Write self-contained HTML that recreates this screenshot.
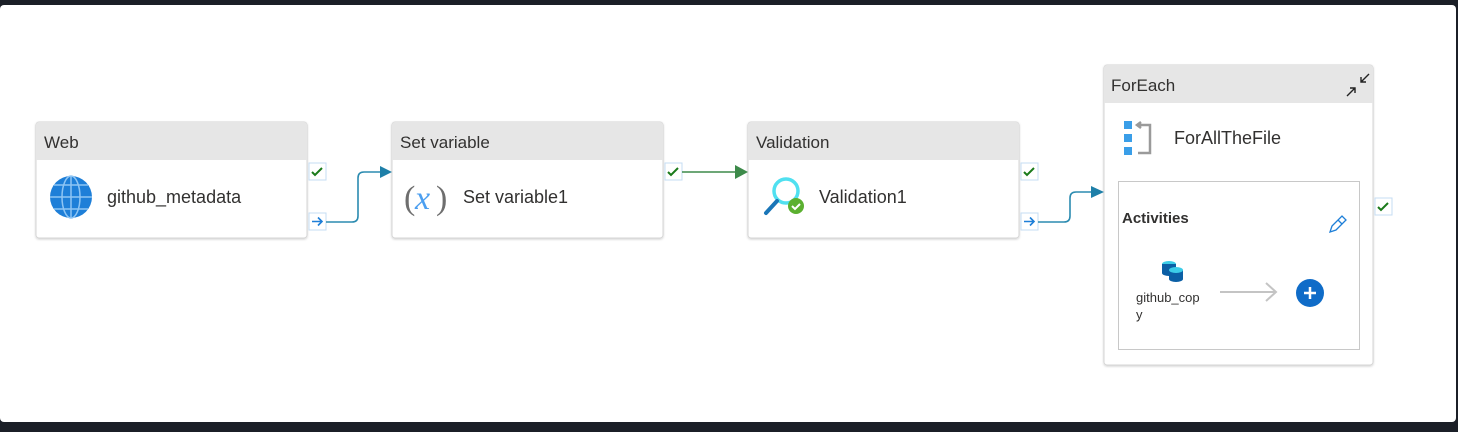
<!DOCTYPE html>
<html><head><meta charset="utf-8"><style>
html,body{margin:0;padding:0;background:#1b1f27;}
svg{display:block;font-family:"Liberation Sans",sans-serif;}
</style></head><body>
<svg width="1458" height="432" viewBox="0 0 1458 432" xmlns="http://www.w3.org/2000/svg">
<defs>
<filter id="sh" x="-5%" y="-5%" width="110%" height="115%"><feDropShadow dx="0" dy="1" stdDeviation="1" flood-color="#000" flood-opacity="0.18"/></filter>
</defs>
<rect x="0" y="0" width="1458" height="432" fill="#1b1f27"/>
<rect x="0" y="5" width="1456" height="417" rx="4" fill="#ffffff"/>

<g filter="url(#sh)">
<rect x="36" y="122" width="271" height="116" rx="3" fill="#fff" stroke="#d6d6d6"/>
<path d="M36 125 a3 3 0 0 1 3 -3 h265 a3 3 0 0 1 3 3 v35 h-271z" fill="#e6e6e6"/>
</g>
<text x="44" y="148" font-size="17" fill="#323130">Web</text>
<circle cx="71" cy="197" r="21" fill="#1e7fd8"/>
<g fill="none" stroke="#8ec5f4" stroke-width="1.5">
<ellipse cx="71" cy="197" rx="9" ry="21"/>
<line x1="71" y1="176" x2="71" y2="218"/>
<line x1="50" y1="197" x2="92" y2="197"/>
<path d="M54 185 h34 M54 209 h34"/>
</g>
<text x="107" y="203" font-size="18" fill="#323130">github_metadata</text>

<g filter="url(#sh)">
<rect x="392" y="122" width="271" height="116" rx="3" fill="#fff" stroke="#d6d6d6"/>
<path d="M392 125 a3 3 0 0 1 3 -3 h265 a3 3 0 0 1 3 3 v35 h-271z" fill="#e6e6e6"/>
</g>
<text x="400" y="148" font-size="17" fill="#323130">Set variable</text>
<text x="404" y="209" font-size="34" fill="#6e6e6e" font-family="Liberation Serif,serif">(</text>
<text x="415" y="209" font-size="34" fill="#4c9ff0" font-style="italic" font-family="Liberation Serif,serif">x</text>
<text x="436" y="209" font-size="34" fill="#6e6e6e" font-family="Liberation Serif,serif">)</text>
<text x="463" y="203" font-size="18" fill="#323130">Set variable1</text>

<g filter="url(#sh)">
<rect x="748" y="122" width="271" height="116" rx="3" fill="#fff" stroke="#d6d6d6"/>
<path d="M748 125 a3 3 0 0 1 3 -3 h265 a3 3 0 0 1 3 3 v35 h-271z" fill="#e6e6e6"/>
</g>
<text x="756" y="148" font-size="17" fill="#323130">Validation</text>
<circle cx="786" cy="191" r="12" fill="none" stroke="#50e0f0" stroke-width="3.5"/>
<line x1="777" y1="201" x2="766" y2="213" stroke="#1a76b8" stroke-width="4" stroke-linecap="round"/>
<circle cx="796" cy="206" r="8" fill="#5bb030"/>
<path d="M792 206 l3 3 l5 -5" fill="none" stroke="#fff" stroke-width="2"/>
<text x="819" y="203" font-size="18" fill="#323130">Validation1</text>

<g filter="url(#sh)">
<rect x="1104" y="65" width="269" height="300" rx="3" fill="#fff" stroke="#d6d6d6"/>
<path d="M1104 68 a3 3 0 0 1 3 -3 h263 a3 3 0 0 1 3 3 v35 h-269z" fill="#e6e6e6"/>
</g>
<text x="1111" y="91" font-size="17" fill="#323130">ForEach</text>
<g stroke="#222" stroke-width="1.4" fill="none">
<path d="M1347 96 l8 -8 M1350 88 h5 v5"/>
<path d="M1369 74 l-8 8 M1361 77 v5 h5"/>
</g>
<rect x="1124" y="121" width="8" height="8" fill="#3a9ee8"/>
<rect x="1124" y="134" width="8" height="8" fill="#3a9ee8"/>
<rect x="1124" y="147" width="8" height="8" fill="#3a9ee8"/>
<path d="M1138 125 h12 v28 h-12 M1141 122 l-4 3 l4 3" fill="none" stroke="#9a9a9a" stroke-width="2.5"/>
<text x="1174" y="144" font-size="18" fill="#323130">ForAllTheFile</text>
<rect x="1118.5" y="181.5" width="241" height="168" fill="#fff" stroke="#c8c8c8"/>
<text x="1122" y="223" font-size="15" font-weight="bold" fill="#323130">Activities</text>
<path d="M1330 232 l2 -6 l10 -10 l4 4 l-10 10 z M1338 220 l4 4" fill="none" stroke="#1e7fd8" stroke-width="1.3"/>
<ellipse cx="1169" cy="264" rx="7" ry="3" fill="#3ccde8"/>
<path d="M1162 264 v9 a7 3 0 0 0 14 0 v-9" fill="#0b5fa5"/>
<path d="M1169 270 v9 a7 3 0 0 0 14 0 v-9" fill="#0b5fa5"/>
<ellipse cx="1176" cy="270" rx="7" ry="3" fill="#3ccde8"/>
<text x="1136" y="302" font-size="13" fill="#323130">github_cop</text>
<text x="1136" y="319" font-size="13" fill="#323130">y</text>
<path d="M1220 292 h56 M1266 283 l10 9 l-10 9" fill="none" stroke="#c4c4c4" stroke-width="2"/>
<circle cx="1310" cy="293" r="14" fill="#0f6cc8"/>
<path d="M1310 287 v12 M1304 293 h12" stroke="#fff" stroke-width="2.5"/>

<g>
<rect x="309" y="163" width="17" height="17" fill="#fff" stroke="#c5dcf3"/>
<path d="M312 172 l3 3 l7 -7" fill="none" stroke="#1a7a1a" stroke-width="2"/>
<rect x="309" y="213" width="17" height="17" fill="#fff" stroke="#c5dcf3"/>
<path d="M312 221.5 h9 M318 217.5 l4 4 l-4 4" fill="none" stroke="#1e7fd8" stroke-width="1.6"/>
<rect x="665" y="163" width="17" height="17" fill="#fff" stroke="#c5dcf3"/>
<path d="M668 172 l3 3 l7 -7" fill="none" stroke="#1a7a1a" stroke-width="2"/>
<rect x="1021" y="163" width="17" height="17" fill="#fff" stroke="#c5dcf3"/>
<path d="M1024 172 l3 3 l7 -7" fill="none" stroke="#1a7a1a" stroke-width="2"/>
<rect x="1021" y="213" width="17" height="17" fill="#fff" stroke="#c5dcf3"/>
<path d="M1024 221.5 h9 M1030 217.5 l4 4 l-4 4" fill="none" stroke="#1e7fd8" stroke-width="1.6"/>
<rect x="1375" y="198" width="17" height="17" fill="#fff" stroke="#c5dcf3"/>
<path d="M1378 207 l3 3 l7 -7" fill="none" stroke="#1a7a1a" stroke-width="2"/>
</g>

<path d="M326 222 h26 q6 0 6 -6 v-38 q0 -6 6 -6 h18" fill="none" stroke="#2b8bb0" stroke-width="1.6"/>
<path d="M380 166 l12 6 l-12 6z" fill="#1e7fa8"/>
<path d="M682 172 h55" fill="none" stroke="#3d8a4a" stroke-width="1.6"/>
<path d="M735 165 l13 7 l-13 7z" fill="#3d8a4a"/>
<path d="M1038 222 h26 q6 0 6 -6 v-18 q0 -6 6 -6 h16" fill="none" stroke="#2b8bb0" stroke-width="1.6"/>
<path d="M1091 186 l13 6 l-13 6z" fill="#1e7fa8"/>
</svg>
</body></html>
